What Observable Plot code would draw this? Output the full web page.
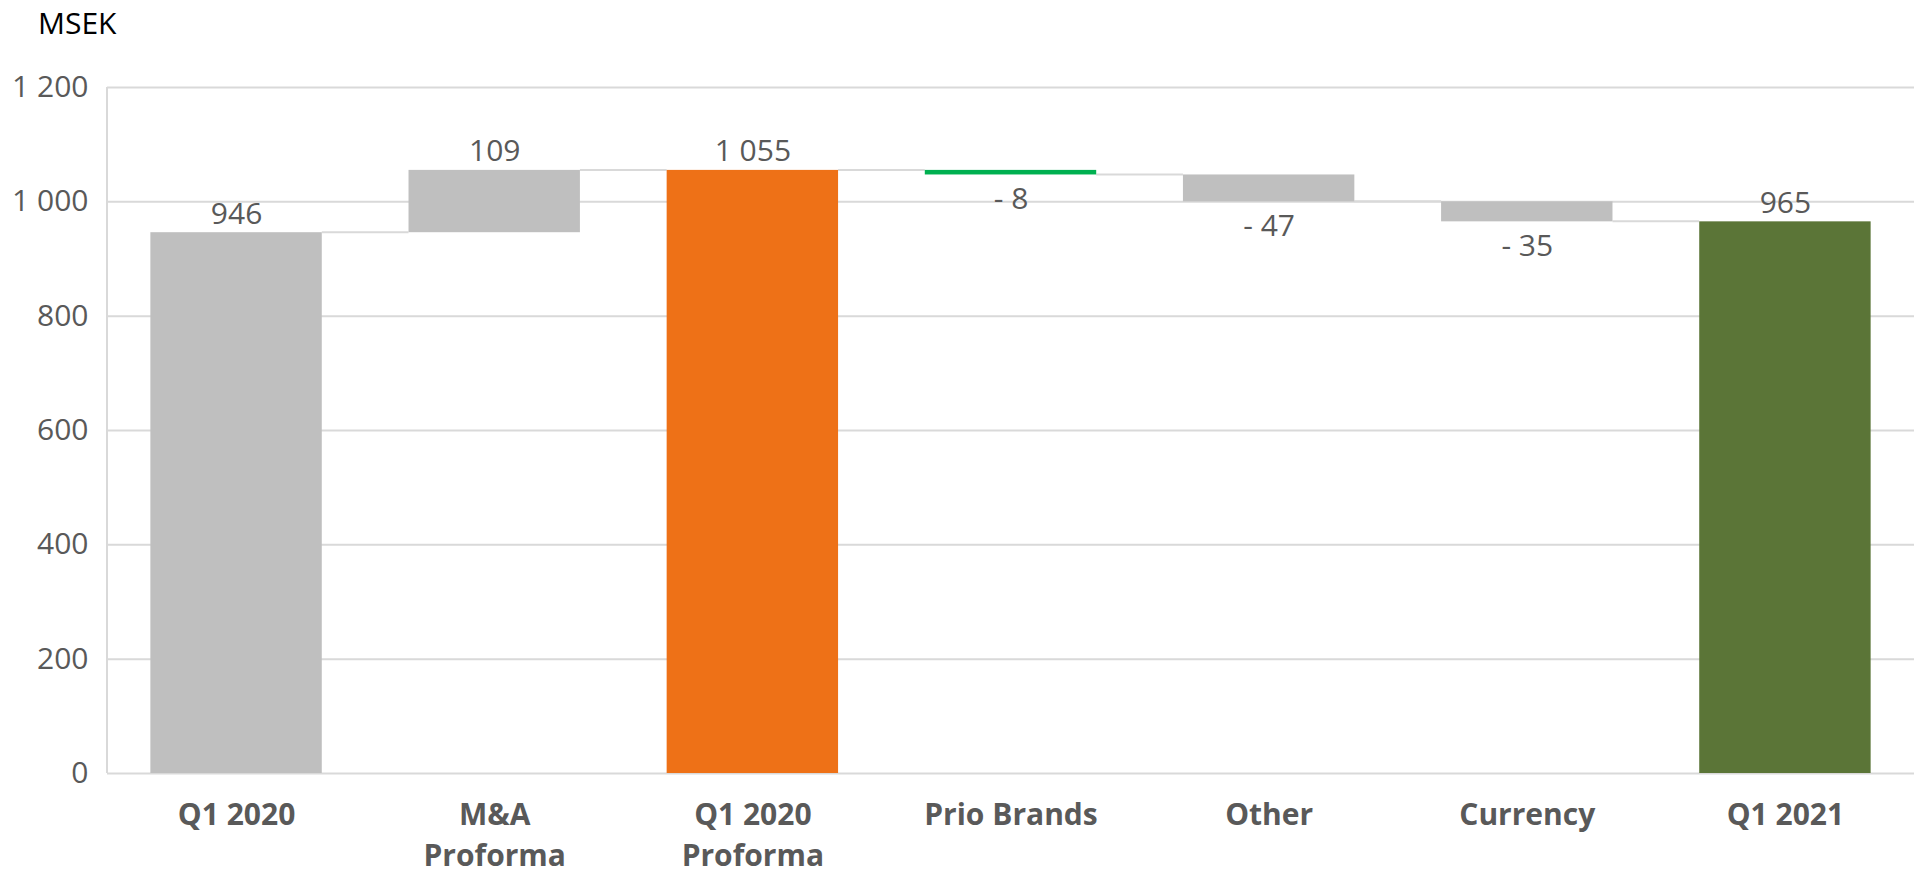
<!DOCTYPE html>
<html>
<head>
<meta charset="utf-8">
<script src="https://cdn.jsdelivr.net/npm/d3@7"></script>
<script src="https://cdn.jsdelivr.net/npm/@observablehq/plot@0.6"></script>
<style>
  html, body { margin: 0; padding: 0; background: #fff; }
  #wrap { position: relative; width: 1921px; height: 874px; font-family: "Open Sans", sans-serif; }
  #unit { position: absolute; left: 38px; top: 8px; font-size: 30px; line-height: 30px; color: #000; }
  #chart { position: absolute; left: 0; top: 0; }
</style>
</head>
<body>
<div id="wrap">
  <div id="chart"></div>
  <div id="unit">MSEK</div>
</div>
<script>
// ---- data ----
const categories = ["Q1 2020", "M&A Proforma", "Q1 2020 Proforma", "Prio Brands", "Other", "Currency", "Q1 2021"];
const axisLabels = ["Q1 2020", "M&A\nProforma", "Q1 2020\nProforma", "Prio Brands", "Other", "Currency", "Q1 2021"];
const values = [946, 109, 1055, -8, -47, -35, 965];
const kinds = ["total", "delta", "total", "delta", "delta", "delta", "total"];
const barColors = ["#BFBFBF", "#BFBFBF", "#EE7117", "#00B050", "#BFBFBF", "#BFBFBF", "#5B7537"];
const valueLabels = ["946", "109", "1 055", "- 8", "- 47", "- 35", "965"];
const yTicks = [0, 200, 400, 600, 800, 1000, 1200];

// ---- build waterfall rows ----
let running = 0;
const rows = categories.map((cat, i) => {
  let y1, y2;
  if (kinds[i] === "total") { y1 = 0; y2 = values[i]; running = values[i]; }
  else { y1 = running; y2 = running + values[i]; running = y2; }
  return {cat, label: axisLabels[i], text: valueLabels[i], value: values[i], y1, y2, end: running, color: barColors[i]};
});
const links = rows.slice(0, -1).map((r, i) => ({from: r.cat, to: rows[i + 1].cat, level: r.end}));

const fmt = d3.formatLocale({decimal: ",", thousands: " ", grouping: [3], currency: ["", ""]}).format(",");

// custom mark: connectors between bar edges + left axis line
function decor(index, scales, vals, dimensions) {
  const ns = "http://www.w3.org/2000/svg";
  const g = document.createElementNS(ns, "g");
  const x = scales.x, y = scales.y;
  const bw = typeof x.bandwidth === "function" ? x.bandwidth() : x.bandwidth;
  const l = document.createElementNS(ns, "line");
  l.setAttribute("x1", dimensions.marginLeft); l.setAttribute("x2", dimensions.marginLeft);
  l.setAttribute("y1", y(yTicks[yTicks.length - 1])); l.setAttribute("y2", y(0));
  l.setAttribute("stroke", "#D9D9D9"); l.setAttribute("stroke-width", 2);
  g.appendChild(l);
  for (const k of links) {
    const ln = document.createElementNS(ns, "line");
    ln.setAttribute("x1", x(k.from) + bw); ln.setAttribute("x2", x(k.to));
    ln.setAttribute("y1", y(k.level)); ln.setAttribute("y2", y(k.level));
    ln.setAttribute("stroke", "#D9D9D9"); ln.setAttribute("stroke-width", 2);
    g.appendChild(ln);
  }
  return g;
}

const chart = Plot.plot({
  width: 1921,
  height: 874,
  marginTop: 87,
  marginBottom: 101,
  marginLeft: 107,
  marginRight: 7,
  style: {fontSize: "30px", fontFamily: "'Open Sans', sans-serif", color: "#595959", background: "transparent"},
  x: {domain: categories, paddingInner: 0.336, paddingOuter: 0.168, round: false, axis: null},
  y: {domain: [0, 1200], ticks: yTicks, tickFormat: fmt, tickSize: 0, tickPadding: 19, label: null},
  color: {type: "identity"},
  marks: [
    Plot.ruleY(yTicks, {stroke: "#D9D9D9", strokeWidth: 2}),
    decor,
    Plot.barY(rows, {x: "cat", y1: "y1", y2: "y2", fill: "color"}),
    Plot.text(rows.filter(d => d.value > 0), {x: "cat", y: "y2", text: "text", lineAnchor: "bottom", dy: -9, fill: "#595959"}),
    Plot.text(rows.filter(d => d.value < 0), {x: "cat", y: "y2", text: "text", lineAnchor: "top", dy: 13, fill: "#595959"}),
    Plot.text(rows, {x: "cat", frameAnchor: "bottom", text: "label", lineAnchor: "top", dy: 22, lineHeight: 1.38, fontWeight: "bold", fill: "#595959"})
  ]
});
document.getElementById("chart").appendChild(chart);
</script>
</body>
</html>
